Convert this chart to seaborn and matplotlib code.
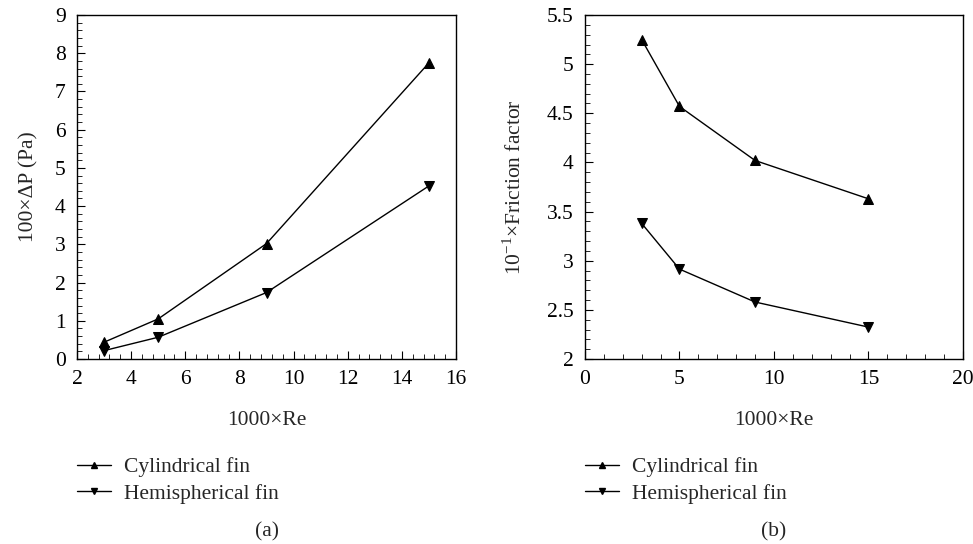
import numpy as np
import pandas as pd
import matplotlib
matplotlib.use("Agg")
import matplotlib.pyplot as plt
from matplotlib.ticker import MultipleLocator
from matplotlib.lines import Line2D
import seaborn as sns

re_x = [3, 5, 9, 15]
dp_cyl = [0.44, 1.05, 3.02, 7.75]
dp_hemi = [0.22, 0.57, 1.74, 4.53]
ff_cyl = [5.25, 4.57, 4.02, 3.63]
ff_hemi = [3.38, 2.915, 2.58, 2.325]
series_names = ["Cylindrical fin", "Hemispherical fin"]
y2_ticklabels = ["2", "2.5", "3", "3.5", "4", "4.5", "5", "5.5"]

sns.set_style("ticks")
plt.rcParams['font.family'] = ['Liberation Serif', 'DejaVu Serif']
plt.rcParams['mathtext.fontset'] = 'custom'
plt.rcParams['mathtext.rm'] = 'Liberation Serif'

FS = 15.5

fig = plt.figure(figsize=(9.73, 5.44), dpi=100)
ax1 = fig.add_axes([0.0791, 0.340, 0.3896, 0.6324])
ax2 = fig.add_axes([0.6012, 0.340, 0.3885, 0.6324])

def draw(ax, ycyl, yhemi):
    df = pd.DataFrame({"x": re_x * 2, "y": ycyl + yhemi,
                       "s": [series_names[0]] * 4 + [series_names[1]] * 4})
    sns.lineplot(data=df, x="x", y="y", hue="s", style="s",
                 markers={series_names[0]: "^", series_names[1]: "v"},
                 dashes=False, palette=["black", "black"], ax=ax,
                 markersize=7.5, linewidth=1.0, legend=False,
                 markeredgecolor="black")
    for sp in ax.spines.values():
        sp.set_linewidth(1.0)
        sp.set_color("black")
    ax.tick_params(axis="both", which="both", direction="in", labelsize=FS,
                   top=False, right=False, colors="black")
    ax.tick_params(axis="both", which="major", pad=8)
    ax.tick_params(which="major", length=6)
    ax.tick_params(which="minor", length=3.5)
    handles = [Line2D([], [], color="black", marker="^", markersize=5, lw=1),
               Line2D([], [], color="black", marker="v", markersize=5, lw=1)]
    ax.legend(handles, series_names, loc="upper left", bbox_to_anchor=(0.0, -0.285),
              frameon=False, fontsize=FS, handlelength=1.6, handletextpad=0.6,
              labelspacing=0.3, borderaxespad=0, borderpad=0)

draw(ax1, dp_cyl, dp_hemi)
ax1.set_xlim(2, 16)
ax1.set_ylim(0, 9)
ax1.xaxis.set_major_locator(MultipleLocator(2))
ax1.xaxis.set_minor_locator(MultipleLocator(0.4))
ax1.yaxis.set_major_locator(MultipleLocator(1))
ax1.yaxis.set_minor_locator(MultipleLocator(0.2))
ax1.set_xlabel("1000×Re", fontsize=FS, labelpad=16)
ax1.set_ylabel("100×ΔP (Pa)", fontsize=FS, labelpad=12)

draw(ax2, ff_cyl, ff_hemi)
ax2.set_xlim(0, 20)
ax2.set_ylim(2, 5.5)
ax2.xaxis.set_major_locator(MultipleLocator(5))
ax2.xaxis.set_minor_locator(MultipleLocator(1))
ax2.set_yticks(np.arange(2, 5.51, 0.5))
ax2.set_yticklabels(y2_ticklabels)
ax2.yaxis.set_minor_locator(MultipleLocator(0.1))
ax2.set_xlabel("1000×Re", fontsize=FS, labelpad=16)
ax2.set_ylabel("10$^{-1}$×Friction factor", fontsize=FS, labelpad=15)

fig.text(0.2739, 1 - 532 / 544, "(a)", ha="center", va="center", fontsize=FS)
fig.text(0.7955, 1 - 532 / 544, "(b)", ha="center", va="center", fontsize=FS)

fig.savefig("out.png", dpi=100)
